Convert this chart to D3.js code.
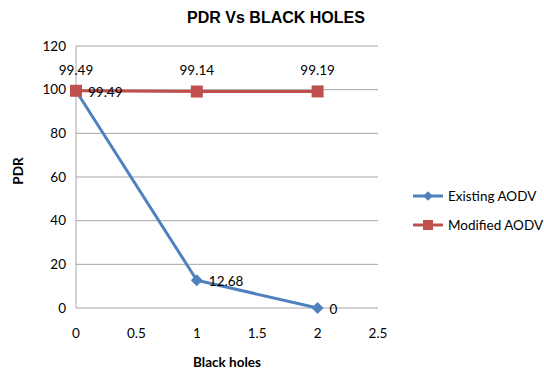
<!DOCTYPE html>
<html>
<head>
<meta charset="utf-8">
<script src="https://cdn.jsdelivr.net/npm/d3@7"></script>
<style>
  html, body { margin: 0; padding: 0; background: #fff; }
  svg { display: block; font-family: Lato, "Open Sans", sans-serif; }
</style>
</head>
<body>
<svg id="chart" width="544" height="371"></svg>
<script>
// Black holes count on the x axis
const blackHoles = [0, 1, 2];
// Packet delivery ratio per series
const existingAODV = [99.49, 12.68, 0];
const modifiedAODV = [99.49, 99.14, 99.19];
const seriesNames = ["Existing AODV", "Modified AODV"];
const xTicks = [0, 0.5, 1, 1.5, 2, 2.5];
const yTicks = [0, 20, 40, 60, 80, 100, 120];

const svg = d3.select("#chart");
const plot = { left: 76, right: 378, top: 46, bottom: 308 };

const x = d3.scaleLinear().domain([0, 2.5]).range([plot.left, plot.right]);
const y = d3.scaleLinear().domain([0, 120]).range([plot.bottom, plot.top]);

const colors = { existing: "#4F81BD", modified: "#C0504D" };

// Horizontal gridlines
svg.append("g").selectAll("line").data(yTicks).join("line")
  .attr("x1", plot.left).attr("x2", plot.right)
  .attr("y1", d => y(d)).attr("y2", d => y(d))
  .attr("stroke", "#a6a6a6").attr("stroke-width", 1);

// Y axis line
svg.append("line")
  .attr("x1", plot.left).attr("x2", plot.left).attr("y1", plot.top).attr("y2", plot.bottom)
  .attr("stroke", "#a6a6a6").attr("stroke-width", 1);

// Y tick labels
svg.append("g").selectAll("text").data(yTicks).join("text")
  .attr("x", plot.left - 10).attr("y", d => y(d)).attr("dy", "0.35em")
  .attr("text-anchor", "end").attr("font-size", 13.5).attr("fill", "#000")
  .text(d => d);

// X tick labels
svg.append("g").selectAll("text").data(xTicks).join("text")
  .attr("x", d => x(d)).attr("y", 333).attr("dy", "0.35em")
  .attr("text-anchor", "middle").attr("font-size", 13.5).attr("fill", "#000")
  .text(d => d);

// Title and axis titles
svg.append("text").attr("x", 276).attr("y", 23)
  .attr("text-anchor", "middle").attr("font-size", 16).attr("font-weight", "bold")
  .attr("font-family", "'Liberation Sans', Arial, sans-serif")
  .text("PDR Vs BLACK HOLES");
svg.append("text").attr("x", 227).attr("y", 367)
  .attr("text-anchor", "middle").attr("font-size", 13.5).attr("font-weight", "bold")
  .text("Black holes");
svg.append("text").attr("transform", "translate(23,171) rotate(-90)")
  .attr("text-anchor", "middle").attr("font-size", 13.5).attr("font-weight", "bold")
  .text("PDR");

const line = d3.line().x((d, i) => x(blackHoles[i])).y(d => y(d));

// Existing AODV series
svg.append("path").datum(existingAODV)
  .attr("d", line).attr("fill", "none")
  .attr("stroke", colors.existing).attr("stroke-width", 3).attr("stroke-linejoin", "round");
svg.append("g").selectAll("path").data(existingAODV).join("path")
  .attr("d", d3.symbol(d3.symbolDiamond2, 90)())
  .attr("transform", (d, i) => `translate(${x(blackHoles[i])},${y(d)})`)
  .attr("fill", colors.existing);

// Modified AODV series
svg.append("path").datum(modifiedAODV)
  .attr("d", line).attr("fill", "none")
  .attr("stroke", colors.modified).attr("stroke-width", 3);
svg.append("g").selectAll("rect").data(modifiedAODV).join("rect")
  .attr("x", (d, i) => x(blackHoles[i]) - 6).attr("y", d => y(d) - 6)
  .attr("width", 12).attr("height", 12)
  .attr("fill", colors.modified);

// Value labels: existing to the right, modified above
svg.append("g").selectAll("text").data(existingAODV).join("text")
  .attr("x", (d, i) => x(blackHoles[i]) + 12).attr("y", d => y(d) + 1).attr("dy", "0.35em")
  .attr("font-size", 13.5).attr("fill", "#000")
  .text(d => d);
svg.append("g").selectAll("text").data(modifiedAODV).join("text")
  .attr("x", (d, i) => x(blackHoles[i])).attr("y", d => y(d) - 21).attr("dy", "0.35em")
  .attr("text-anchor", "middle").attr("font-size", 13.5).attr("fill", "#000")
  .text(d => d);

// Legend
const legend = svg.append("g");
const legendRows = [
  { name: seriesNames[0], color: colors.existing, y: 196, kind: "diamond" },
  { name: seriesNames[1], color: colors.modified, y: 225, kind: "square" }
];
legendRows.forEach(r => {
  legend.append("line").attr("x1", 413).attr("x2", 443).attr("y1", r.y).attr("y2", r.y)
    .attr("stroke", r.color).attr("stroke-width", 3);
  if (r.kind === "diamond") {
    legend.append("path").attr("d", d3.symbol(d3.symbolDiamond2, 60)())
      .attr("transform", `translate(428,${r.y})`).attr("fill", r.color);
  } else {
    legend.append("rect").attr("x", 423).attr("y", r.y - 5).attr("width", 10).attr("height", 10)
      .attr("fill", r.color);
  }
  legend.append("text").attr("x", 448).attr("y", r.y).attr("dy", "0.35em")
    .attr("font-size", 13.5).attr("fill", "#000").text(r.name);
});
</script>
</body>
</html>
